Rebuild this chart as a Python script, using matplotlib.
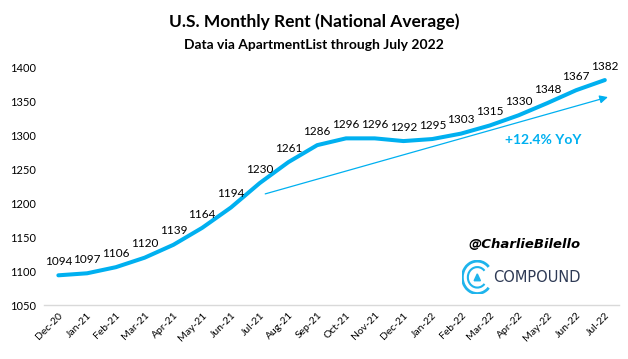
import numpy as np
import matplotlib
matplotlib.use("Agg")
import matplotlib.pyplot as plt
from matplotlib.patches import Arc, Polygon

# U.S. monthly rent, ApartmentList national average
months = ["Dec-20", "Jan-21", "Feb-21", "Mar-21", "Apr-21", "May-21", "Jun-21",
          "Jul-21", "Aug-21", "Sep-21", "Oct-21", "Nov-21", "Dec-21", "Jan-22",
          "Feb-22", "Mar-22", "Apr-22", "May-22", "Jun-22", "Jul-22"]
rent = [1094, 1097, 1106, 1120, 1139, 1164, 1194, 1230, 1261, 1286, 1296,
        1296, 1292, 1295, 1303, 1315, 1330, 1348, 1367, 1382]
yticks = [1050, 1100, 1150, 1200, 1250, 1300, 1350, 1400]

BLUE = "#00B0F0"
plt.rcParams['font.family'] = ['Lato', 'DejaVu Sans']

fig = plt.figure(figsize=(6.28, 3.59), dpi=100)
ax = fig.add_axes([0.07, 0.150, 0.916, 0.661])

idx = np.arange(len(months))
ax.plot(idx, rent, color=BLUE, lw=2.9, solid_joinstyle='round', solid_capstyle='round')

for i, v in enumerate(rent):
    ax.annotate(str(v), (i, v), xytext=(0, 6), textcoords='offset points',
                ha='center', va='bottom', fontsize=8.5, color='black')

# YoY trend arrow
ax.annotate("", xy=(19.2, 1358), xytext=(7.1, 1213),
            arrowprops=dict(arrowstyle='-|>', color=BLUE, lw=0.9,
                            mutation_scale=12))
ax.text(16.85, 1293, "+12.4% YoY", color=BLUE, fontsize=10, fontweight='bold',
        ha='center', va='center')

ax.set_xlim(-0.5, len(months) - 0.5)
ax.set_ylim(1050, 1400)
ax.set_yticks(yticks)
ax.set_xticks(idx)
ax.set_xticklabels(months, rotation=45, ha='right', rotation_mode='anchor', fontsize=7.5)
ax.tick_params(axis='y', labelsize=8, length=0, pad=6)
ax.tick_params(axis='x', length=0, pad=4)
for s in ['top', 'right', 'left']:
    ax.spines[s].set_visible(False)
ax.spines['bottom'].set_color('#D9D9D9')
ax.spines['bottom'].set_linewidth(1.0)

fig.text(0.5, 0.94, "U.S. Monthly Rent (National Average)", ha='center', va='center',
         fontsize=12.5, fontweight='bold')
fig.text(0.5, 0.875, "Data via ApartmentList through July 2022", ha='center', va='center',
         fontsize=10, fontweight='bold')

# watermark
fig.text(0.835, 0.318, "@CharlieBilello", ha='center', va='center', fontsize=9.5,
         fontweight='bold', style='italic', family=['DejaVu Sans'])
fig.text(0.855, 0.227, "COMPOUND", ha='center', va='center', fontsize=10.5,
         color='#2E3A55', family=['DejaVu Sans'])
lax = fig.add_axes([0.735, 0.18, 0.05, 0.095])
lax.set_xlim(-1, 1); lax.set_ylim(-1, 1); lax.axis('off')
lax.add_patch(Arc((0, 0), 1.9, 1.9, theta1=40, theta2=320, color='#1EB4EC', lw=2))
lax.add_patch(Arc((0, 0), 1.2, 1.2, theta1=40, theta2=320, color='#1EB4EC', lw=1.5))
lax.add_patch(Polygon([[-0.2, -0.2], [0.2, -0.2], [0, 0.2]], color='#1EB4EC'))

fig.savefig("out.png", dpi=100)
